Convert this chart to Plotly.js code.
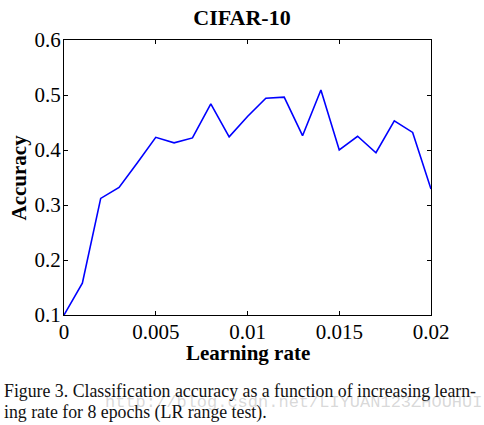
<!DOCTYPE html>
<html>
<head>
<meta charset="utf-8">
<script src="https://cdn.plot.ly/plotly-3.0.1.min.js"></script>
<style>html,body{margin:0;padding:0;background:#fff;}#chart{width:484px;height:425px;}</style>
</head>
<body>
<div id="chart"></div>
<script>
const learningRate = [0, 0.001, 0.002, 0.003, 0.004, 0.005, 0.006, 0.007, 0.008, 0.009, 0.010,
  0.011, 0.012, 0.013, 0.014, 0.015, 0.016, 0.017, 0.018, 0.019, 0.020];
const accuracy = [0.100, 0.158, 0.312, 0.332, 0.377, 0.423, 0.413, 0.422, 0.484, 0.424, 0.461,
  0.494, 0.496, 0.426, 0.509, 0.400, 0.425, 0.395, 0.453, 0.432, 0.329];
const xTicks = [0, 0.005, 0.01, 0.015, 0.02];
const xTickLabels = ['0', '0.005', '0.01', '0.015', '0.02'];
const yTicks = [0.1, 0.2, 0.3, 0.4, 0.5, 0.6];
const yTickLabels = ['0.1', '0.2', '0.3', '0.4', '0.5', '0.6'];
const chartTitle = 'CIFAR-10';
const xTitle = 'Learning rate';
const yTitle = 'Accuracy';
const captionLine1 = 'Figure 3. Classification accuracy as a function of increasing learn-';
const captionLine2 = 'ing rate for 8 epochs (LR range test).';
const watermark = 'http://blog.csdn.net/LIYUAN123ZHOUHUI';

const serif = 'Liberation Serif, Times New Roman, serif';

const trace = {
  x: learningRate, y: accuracy, type: 'scatter', mode: 'lines',
  line: {color: 'rgb(0,0,255)', width: 1.6}, hoverinfo: 'skip'
};

const axisCommon = {
  showgrid: false, zeroline: false, showline: true, linecolor: '#000', linewidth: 1,
  mirror: 'ticks', ticks: 'inside', ticklen: 4, tickcolor: '#000', tickwidth: 1,
  tickfont: {family: serif, size: 21, color: '#000'}
};

const layout = {
  width: 484, height: 425,
  margin: {l: 64, r: 53, t: 40, b: 110},
  paper_bgcolor: '#fff', plot_bgcolor: '#fff',
  showlegend: false,
  title: {text: '<b>' + chartTitle + '</b>', font: {family: serif, size: 22, color: '#000'},
    xref: 'container', x: 0.5, xanchor: 'center', yref: 'container', y: 1 - 17/425, yanchor: 'middle'},
  xaxis: Object.assign({}, axisCommon, {range: [0, 0.02], tickvals: xTicks, ticktext: xTickLabels, ticklabelstandoff: -2}),
  yaxis: Object.assign({}, axisCommon, {range: [0.1, 0.6], tickvals: yTicks, ticktext: yTickLabels, ticklabelstandoff: -2}),
  annotations: [
    {text: '<b>' + xTitle + '</b>', xref: 'paper', yref: 'paper', x: 0.5, y: 0, xanchor: 'center', yanchor: 'middle',
      yshift: -38, showarrow: false, font: {family: serif, size: 21, color: '#000'}},
    {text: '<b>' + yTitle + '</b>', xref: 'paper', yref: 'paper', x: 0, y: 0.5, xanchor: 'center', yanchor: 'middle',
      xshift: -46, textangle: -90, showarrow: false, font: {family: serif, size: 21, color: '#000'}},
    {text: watermark, xref: 'paper', yref: 'paper', x: 0, y: 0, xanchor: 'left', yanchor: 'middle',
      xshift: 39, yshift: -87, showarrow: false, font: {family: 'Liberation Mono, monospace', size: 17, color: 'rgba(170,170,170,0.45)'}},
    {text: captionLine1, xref: 'paper', yref: 'paper', x: 0, y: 0, xanchor: 'left', yanchor: 'middle',
      xshift: -62, yshift: -76, showarrow: false, font: {family: serif, size: 17.8, color: '#111'}},
    {text: captionLine2, xref: 'paper', yref: 'paper', x: 0, y: 0, xanchor: 'left', yanchor: 'middle',
      xshift: -62, yshift: -97, showarrow: false, font: {family: serif, size: 17.8, color: '#111'}}
  ]
};

Plotly.newPlot('chart', [trace], layout, {staticPlot: true, displayModeBar: false});
</script>
</body>
</html>
